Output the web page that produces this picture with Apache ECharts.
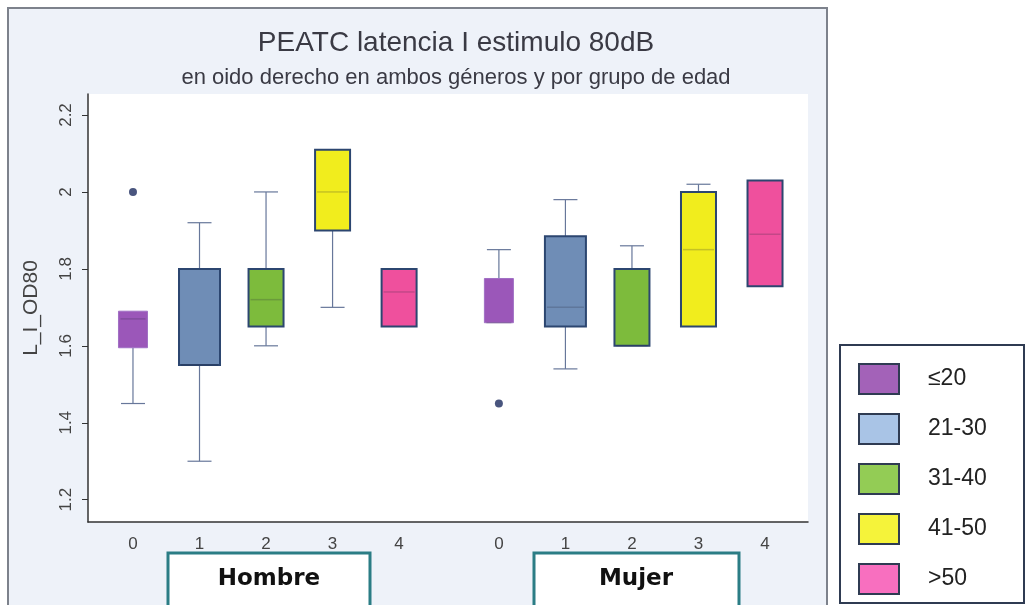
<!DOCTYPE html>
<html>
<head>
<meta charset="utf-8">
<script src="https://cdn.jsdelivr.net/npm/echarts@6/dist/echarts.min.js"></script>
<style>
html,body{margin:0;padding:0;background:#ffffff;}
#chart{width:1026px;height:605px;}
</style>
</head>
<body>
<div id="chart"></div>
<script>
// ---------- DATA ----------
const tickLabels = ['0', '1', '2', '3', '4'];
const genders = ['Hombre', 'Mujer'];
const ageGroups = ['≤20', '21-30', '31-40', '41-50', '>50'];
// [min, q1, median, q3, max] for Hombre, then Mujer
const statsLe20   = [[1.45, 1.595, 1.67, 1.69, 1.69], [1.66, 1.66, 1.66, 1.775, 1.85]];
const stats21to30 = [[1.30, 1.55, 1.55, 1.80, 1.92], [1.54, 1.65, 1.70, 1.885, 1.98]];
const stats31to40 = [[1.60, 1.65, 1.72, 1.80, 2.00], [1.60, 1.60, 1.60, 1.80, 1.86]];
const stats41to50 = [[1.70, 1.90, 2.00, 2.11, 2.11], [1.65, 1.65, 1.85, 2.00, 2.02]];
const statsGt50   = [[1.65, 1.65, 1.74, 1.80, 1.80], [1.755, 1.755, 1.89, 2.03, 2.03]];
// outliers: [genderIndex, groupIndex, value]
const outliers = [[0, 0, 2.00], [1, 0, 1.45]];
const yTicks = [1.2, 1.4, 1.6, 1.8, 2.0, 2.2];

// ---------- STYLE / LAYOUT ----------
const groupStats = [statsLe20, stats21to30, stats31to40, stats41to50, statsGt50];
const genderOffset = 5.5;
const boxFill = ['#9b57b9', '#6f8db6', '#7dbb3c', '#f1ed1d', '#ef509d'];
const boxBorder = ['#a070c4', '#2c4670', '#2c4670', '#2c4670', '#2c4670'];
const legendFill = ['#a362b8', '#a9c4e6', '#93cc55', '#f5f33a', '#f86fbf'];
const boxWidthPx = [29, 41, 35, 35, 35];
const capPx = 24;

const xPos = (gender, group) => group + gender * genderOffset;
const xTickValues = [];
const xTickText = {};
genders.forEach((g, gi) => tickLabels.forEach((t, ti) => {
  const v = xPos(gi, ti);
  xTickValues.push(v);
  xTickText[v] = t;
}));

function renderBox(params, api) {
  const si = params.seriesIndex;
  const x = api.value(0);
  const lo = api.value(1), q1 = api.value(2), med = api.value(3), q3 = api.value(4), hi = api.value(5);
  const pLo = api.coord([x, lo]), pQ1 = api.coord([x, q1]), pMed = api.coord([x, med]);
  const pQ3 = api.coord([x, q3]), pHi = api.coord([x, hi]);
  const cx = pQ1[0];
  const w = boxWidthPx[si];
  const whisk = {stroke: '#67779a', lineWidth: 1.2};
  const children = [];
  if (lo < q1) {
    children.push({type: 'line', shape: {x1: cx, y1: pQ1[1], x2: cx, y2: pLo[1]}, style: whisk});
    children.push({type: 'line', shape: {x1: cx - capPx / 2, y1: pLo[1], x2: cx + capPx / 2, y2: pLo[1]}, style: whisk});
  }
  if (hi > q3) {
    children.push({type: 'line', shape: {x1: cx, y1: pQ3[1], x2: cx, y2: pHi[1]}, style: whisk});
    children.push({type: 'line', shape: {x1: cx - capPx / 2, y1: pHi[1], x2: cx + capPx / 2, y2: pHi[1]}, style: whisk});
  }
  children.push({
    type: 'rect',
    shape: {x: cx - w / 2, y: pQ3[1], width: w, height: pQ1[1] - pQ3[1]},
    style: {fill: boxFill[si], stroke: boxBorder[si], lineWidth: si === 0 ? 1 : 2}
  });
  children.push({
    type: 'line',
    shape: {x1: cx - w / 2 + 2, y1: pMed[1], x2: cx + w / 2 - 2, y2: pMed[1]},
    style: {stroke: 'rgba(40,40,60,0.22)', lineWidth: 1.5}
  });
  return {type: 'group', children: children};
}

const series = ageGroups.map((name, gi) => ({
  name: name,
  type: 'custom',
  renderItem: renderBox,
  itemStyle: {color: legendFill[gi]},
  encode: {x: 0, y: [1, 2, 3, 4, 5]},
  data: genders.map((g, si) => [xPos(si, gi)].concat(groupStats[gi][si])),
  z: 3
}));
series.push({
  name: 'outliers',
  type: 'scatter',
  symbol: 'circle',
  symbolSize: 8,
  itemStyle: {color: '#1b2a5e'},
  data: outliers.map(o => [xPos(o[0], o[1]), o[2]]),
  z: 4
});

const chart = echarts.init(document.getElementById('chart'), null, {renderer: 'canvas'});
chart.setOption({
  animation: false,
  backgroundColor: '#ffffff',
  title: {
    text: 'PEATC latencia I estimulo 80dB',
    subtext: 'en oido derecho en ambos géneros y por grupo de edad',
    left: 451, textAlign: 'center', top: 24, itemGap: 10,
    textStyle: {fontFamily: 'Liberation Sans', fontSize: 28, fontWeight: 'normal', color: '#3a3a44'},
    subtextStyle: {fontFamily: 'Liberation Sans', fontSize: 22, color: '#3a3a44'}
  },
  graphic: [
    {type: 'rect', z: -10, shape: {x: 8, y: 8, width: 819, height: 620},
     style: {fill: '#eef2f9', stroke: '#7d828c', lineWidth: 2}},
    {type: 'rect', z: -5, shape: {x: 88, y: 94, width: 720, height: 428},
     style: {fill: '#ffffff'}},
    {type: 'rect', z: 5, shape: {x: 840, y: 345, width: 184, height: 258},
     style: {fill: '#ffffff', stroke: '#2f3b52', lineWidth: 2}},
    {type: 'rect', z: 5, shape: {x: 168, y: 553, width: 202, height: 70},
     style: {fill: '#ffffff', stroke: '#2b7d85', lineWidth: 3}},
    {type: 'text', z: 6, x: 269, y: 579,
     style: {text: genders[0], fontFamily: 'DejaVu Sans', fontWeight: 'bold', fontSize: 23, fill: '#111', align: 'center', verticalAlign: 'middle'}},
    {type: 'rect', z: 5, shape: {x: 534, y: 553, width: 205, height: 70},
     style: {fill: '#ffffff', stroke: '#2b7d85', lineWidth: 3}},
    {type: 'text', z: 6, x: 636, y: 579,
     style: {text: genders[1], fontFamily: 'DejaVu Sans', fontWeight: 'bold', fontSize: 23, fill: '#111', align: 'center', verticalAlign: 'middle'}}
  ],
  legend: {
    orient: 'vertical',
    left: 858, top: 363,
    z: 10,
    itemWidth: 40, itemHeight: 30, itemGap: 18,
    icon: 'rect',
    selectedMode: false,
    padding: 0,
    itemStyle: {borderColor: '#2f3b52', borderWidth: 2},
    textStyle: {fontFamily: 'Liberation Sans', fontSize: 23, color: '#222', padding: [0, 0, 0, 24]},
    data: ageGroups.map((n, i) => ({name: n, itemStyle: {color: legendFill[i]}}))
  },
  grid: {left: 88, right: 218, top: 94, bottom: 83, containLabel: false},
  xAxis: {
    type: 'value',
    min: -0.676, max: 10.146,
    splitLine: {show: false},
    axisLine: {show: true, onZero: false, lineStyle: {color: '#333', width: 1.5}},
    axisTick: {show: false},
    axisLabel: {
      customValues: xTickValues,
      formatter: v => xTickText[v] !== undefined ? xTickText[v] : '',
      fontFamily: 'Liberation Sans', fontSize: 17, color: '#444', margin: 14
    }
  },
  yAxis: {
    type: 'value',
    min: 1.142, max: 2.2546,
    name: 'L_I_OD80',
    nameLocation: 'middle',
    nameGap: 46,
    nameTextStyle: {fontFamily: 'Liberation Sans', fontSize: 21, color: '#444'},
    splitLine: {show: false},
    axisLine: {show: true, onZero: false, lineStyle: {color: '#333', width: 1.5}},
    axisTick: {show: true, customValues: yTicks, length: 6, lineStyle: {color: '#333'}},
    axisLabel: {
      customValues: yTicks,
      rotate: 90,
      formatter: v => (Math.abs(v - 2) < 1e-9 ? '2' : v.toFixed(1)),
      fontFamily: 'Liberation Sans', fontSize: 17, color: '#444', margin: 13
    }
  },
  series: series
});
</script>
</body>
</html>
